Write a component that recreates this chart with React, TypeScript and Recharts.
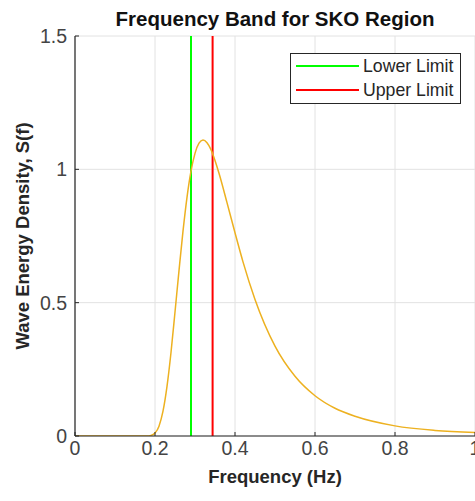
import React from 'react';
import { LineChart, Line, XAxis, YAxis, CartesianGrid, Legend } from 'recharts';

const freq = [0, 0.1, 0.18, 0.19, 0.2, 0.21, 0.22, 0.23, 0.24, 0.25, 0.26, 0.27, 0.28, 0.29, 0.3, 0.31, 0.32, 0.33, 0.34, 0.35, 0.36, 0.38, 0.4, 0.42, 0.45, 0.5, 0.55, 0.6, 0.65, 0.7, 0.8, 0.9, 1.0];
const density = [0, 0, 0, 0.002, 0.011, 0.037, 0.093, 0.186, 0.313, 0.465, 0.62, 0.768, 0.895, 0.993, 1.06, 1.098, 1.11, 1.1, 1.074, 1.033, 0.985, 0.875, 0.762, 0.653, 0.512, 0.337, 0.224, 0.151, 0.104, 0.074, 0.038, 0.021, 0.013];
const xTicks = [0, 0.2, 0.4, 0.6, 0.8, 1];
const yTicks = [0, 0.5, 1, 1.5];
const lowerLimit = 0.29;
const upperLimit = 0.344;
const legendLabels = ['Lower Limit', 'Upper Limit'];

const curveData = freq.map((f, i) => ({ f, S: density[i] }));
const yMin = yTicks[0];
const yMax = yTicks[yTicks.length - 1];
const lowerData = [{ f: lowerLimit, S: yMin }, { f: lowerLimit, S: yMax }];
const upperData = [{ f: upperLimit, S: yMin }, { f: upperLimit, S: yMax }];

const FONT = '"Liberation Sans", Arial, Helvetica, sans-serif';
const AXIS = '#262626';
const TICK_FILL = '#444444';

const XTick = (props: any) => {
  const { x, y, payload } = props;
  return (
    <g>
      <line x1={x} x2={x} y1={y - 5} y2={y - 9} stroke={AXIS} strokeWidth={1} />
      <text x={x} y={y} dy="0.71em" textAnchor="middle" fontSize={19.5} fontFamily={FONT} fill={TICK_FILL}>
        {String(payload.value)}
      </text>
    </g>
  );
};

const YTick = (props: any) => {
  const { x, y, payload } = props;
  return (
    <g>
      <line x1={x + 8} x2={x + 12} y1={y} y2={y} stroke={AXIS} strokeWidth={1} />
      <text x={x} y={y} dy="0.355em" textAnchor="end" fontSize={19.5} fontFamily={FONT} fill={TICK_FILL}>
        {String(payload.value)}
      </text>
    </g>
  );
};

const LegendBox = (props: any) => {
  const items = (props.payload || []).filter((p: any) => p.type !== 'none');
  return (
    <div
      style={{
        boxSizing: 'border-box',
        width: 171,
        height: 51,
        border: `1px solid ${AXIS}`,
        background: '#ffffff',
        paddingLeft: 5,
        fontFamily: FONT,
      }}
    >
      {items.map((it: any, i: number) => (
        <div key={i} style={{ height: 24, display: 'flex', alignItems: 'center' }}>
          <svg width={63} height={4} style={{ display: 'block' }}>
            <line x1={0} x2={63} y1={2} y2={2} stroke={it.color} strokeWidth={2} />
          </svg>
          <span style={{ marginLeft: 4, fontSize: 17.7, color: AXIS, lineHeight: '24px', whiteSpace: 'nowrap' }}>
            {it.value}
          </span>
        </div>
      ))}
    </div>
  );
};

const YLabel = (props: any) => {
  const vb = props.viewBox || {};
  const cx = vb.x + 29;
  const cy = vb.y + vb.height / 2;
  return (
    <text
      x={cx}
      y={cy}
      transform={`rotate(-90 ${cx} ${cy})`}
      textAnchor="middle"
      fontSize={18.5}
      fontWeight="bold"
      fontFamily={FONT}
      fill={AXIS}
    >
      Wave Energy Density, S(f)
    </text>
  );
};

const XLabel = (props: any) => {
  const vb = props.viewBox || {};
  const cx = vb.x + vb.width / 2;
  const cy = vb.y + 47;
  return (
    <text x={cx} y={cy} textAnchor="middle" fontSize={18.5} fontWeight="bold" fontFamily={FONT} fill={AXIS}>
      Frequency (Hz)
    </text>
  );
};

export default function App() {
  return (
    <div style={{ position: 'absolute', left: 0, top: 0, width: 475, height: 501, background: '#ffffff' }}>
      <div
        style={{
          position: 'absolute',
          left: 75,
          top: 9,
          width: 400,
          textAlign: 'center',
          fontFamily: FONT,
          fontWeight: 'bold',
          fontSize: 20.5,
          lineHeight: '20px',
          color: '#111111',
          whiteSpace: 'nowrap',
          zIndex: 2,
        }}
      >
        Frequency Band for SKO Region
      </div>
      <LineChart width={475} height={501} margin={{ top: 36, right: 0, bottom: 35, left: 0 }}>
        <CartesianGrid stroke="#e2e2e2" strokeWidth={1} />
        <XAxis
          type="number"
          dataKey="f"
          domain={[0, 1]}
          ticks={xTicks}
          interval={0}
          height={30}
          tickSize={0}
          tickMargin={5}
          tickLine={false}
          axisLine={{ stroke: AXIS, strokeWidth: 1.2 }}
          tick={<XTick />}
          label={<XLabel />}
          allowDataOverflow
        />
        <YAxis
          type="number"
          dataKey="S"
          domain={[yMin, yMax]}
          ticks={yTicks}
          interval={0}
          width={75}
          tickSize={0}
          tickMargin={8}
          tickLine={false}
          axisLine={{ stroke: AXIS, strokeWidth: 1.2 }}
          tick={<YTick />}
          label={<YLabel />}
          allowDataOverflow
        />
        <Legend
          layout="horizontal"
          verticalAlign="middle"
          align="center"
          wrapperStyle={{ position: 'absolute', left: 290, top: 53, width: 171, height: 51 }}
          content={<LegendBox />}
        />
        <Line
          data={lowerData}
          dataKey="S"
          name={legendLabels[0]}
          stroke="#00ff00"
          strokeWidth={2}
          dot={false}
          activeDot={false}
          isAnimationActive={false}
          type="linear"
        />
        <Line
          data={upperData}
          dataKey="S"
          name={legendLabels[1]}
          stroke="#ff0000"
          strokeWidth={2}
          dot={false}
          activeDot={false}
          isAnimationActive={false}
          type="linear"
        />
        <Line
          data={curveData}
          dataKey="S"
          name="S(f)"
          legendType="none"
          stroke="#EDB120"
          strokeWidth={1.5}
          dot={false}
          activeDot={false}
          isAnimationActive={false}
          type="monotone"
        />
      </LineChart>
    </div>
  );
}
